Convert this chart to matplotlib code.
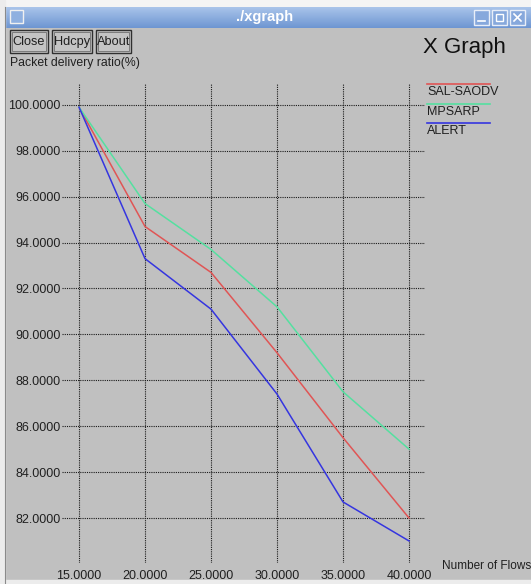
import numpy as np
import matplotlib
matplotlib.use("Agg")
import matplotlib.pyplot as plt
from matplotlib.patches import Rectangle

plt.rcParams['font.family'] = ['Liberation Sans', 'DejaVu Sans']

# data
flows = [15, 20, 25, 30, 35, 40]
sal_saodv = [99.9, 94.7, 92.7, 89.2, 85.5, 82.0]
mpsarp = [99.9, 95.7, 93.7, 91.2, 87.5, 85.0]
alert = [99.9, 93.3, 91.1, 87.4, 82.7, 81.0]
series_names = ["SAL-SAODV", "MPSARP", "ALERT"]
series_colors = ["#e05555", "#55e0a0", "#3535e0"]
yticks = [82, 84, 86, 88, 90, 92, 94, 96, 98, 100]

W, H = 531, 584
BG = "#c0c0c0"
TXT = "#202020"

fig = plt.figure(figsize=(W / 100, H / 100), dpi=100)
fig.patch.set_facecolor(BG)

# window chrome drawn in pixel coords
chrome = fig.add_axes([0, 0, 1, 1], zorder=0)
chrome.set_xlim(0, W)
chrome.set_ylim(H, 0)
chrome.axis('off')

chrome.add_patch(Rectangle((0, 0), W, 7, color="#f4f4f4"))
grad = np.linspace(0, 1, 50).reshape(-1, 1)
cmap = matplotlib.colors.LinearSegmentedColormap.from_list("tb", ["#a9c4ea", "#6e96d2"])
chrome.imshow(grad, cmap=cmap, extent=(4, W, 28, 7), aspect='auto', zorder=1)
chrome.add_patch(Rectangle((0, 0), 5, H, color="#ececec", zorder=2))
chrome.plot([5, 5], [7, H], color="#8a8a8a", lw=0.8, zorder=3)
chrome.add_patch(Rectangle((0, 580), W, 4, color="#ececec", zorder=2))
chrome.text(265, 17, "./xgraph", color="white", fontsize=10.5, fontweight='bold',
            ha='center', va='center', zorder=4)
# title bar icons
chrome.add_patch(Rectangle((10, 10), 13, 13, fc="#8fb0e0", ec="#f0f0f0", lw=1, zorder=4))
for bx in [474, 492, 510]:
    chrome.add_patch(Rectangle((bx, 10), 15, 15, fc="#86a8dc", ec="#e8eef8", lw=1, zorder=4))
chrome.plot([478, 485], [21, 21], color="white", lw=1.2, zorder=5)
chrome.add_patch(Rectangle((496, 14), 7, 7, fc="none", ec="white", lw=1, zorder=5))
chrome.plot([514, 521], [14, 21], color="white", lw=1.2, zorder=5)
chrome.plot([514, 521], [21, 14], color="white", lw=1.2, zorder=5)

# buttons
for label, x0, x1 in [("Close", 10, 48), ("Hdcpy", 52, 92), ("About", 96, 131)]:
    chrome.add_patch(Rectangle((x0, 30), x1 - x0, 23, fc="#c4c4c4", ec="#303030", lw=1, zorder=4))
    chrome.add_patch(Rectangle((x0 + 2, 32), x1 - x0 - 4, 19, fc="none", ec="#707070", lw=0.6, zorder=4))
    chrome.text((x0 + x1) / 2, 42, label, fontsize=9.2, color=TXT, ha='center', va='center', zorder=5)

chrome.text(464, 48, "X Graph", fontsize=16, color="#101010", ha='center', va='center')
chrome.text(10, 63, "Packet delivery ratio(%)", fontsize=8.8, color=TXT, ha='left', va='center')
chrome.text(442, 566, "Number of Flows", fontsize=8.5, color=TXT, ha='left', va='center')

# legend
leg_y = [84, 104, 123]
for name, c, ly in zip(series_names, series_colors, leg_y):
    chrome.plot([427, 490], [ly, ly], color=c, lw=1.2)
    chrome.text(427, ly + 8, name, fontsize=9, color=TXT, ha='left', va='center')

# plot area: pixel box (62..425, 84..563)
x_l, x_r, y_t, y_b = 62, 425, 84, 563
ax = fig.add_axes([x_l / W, 1 - y_b / H, (x_r - x_l) / W, (y_b - y_t) / H], zorder=2)
ax.set_facecolor("none")
ax.set_xlim(13.71, 41.21)
ax.set_ylim(80.04, 100.91)
for s in ax.spines.values():
    s.set_visible(False)

ax.set_xticks(flows)
ax.set_yticks(yticks)
ax.set_xticklabels(["%.4f" % v for v in flows])
ax.set_yticklabels(["%.4f" % v for v in yticks])
ax.tick_params(length=0, labelsize=9, labelcolor=TXT)
ax.tick_params(axis='x', pad=5)
ax.tick_params(axis='y', pad=1)
ax.grid(True, color="#1a1a1a", linestyle=(0, (1, 1)), linewidth=0.8)
ax.set_axisbelow(True)

for ys, c in zip([sal_saodv, mpsarp, alert], series_colors):
    ax.plot(flows, ys, color=c, lw=1.1)

fig.savefig("out.png", dpi=100, facecolor=BG)
